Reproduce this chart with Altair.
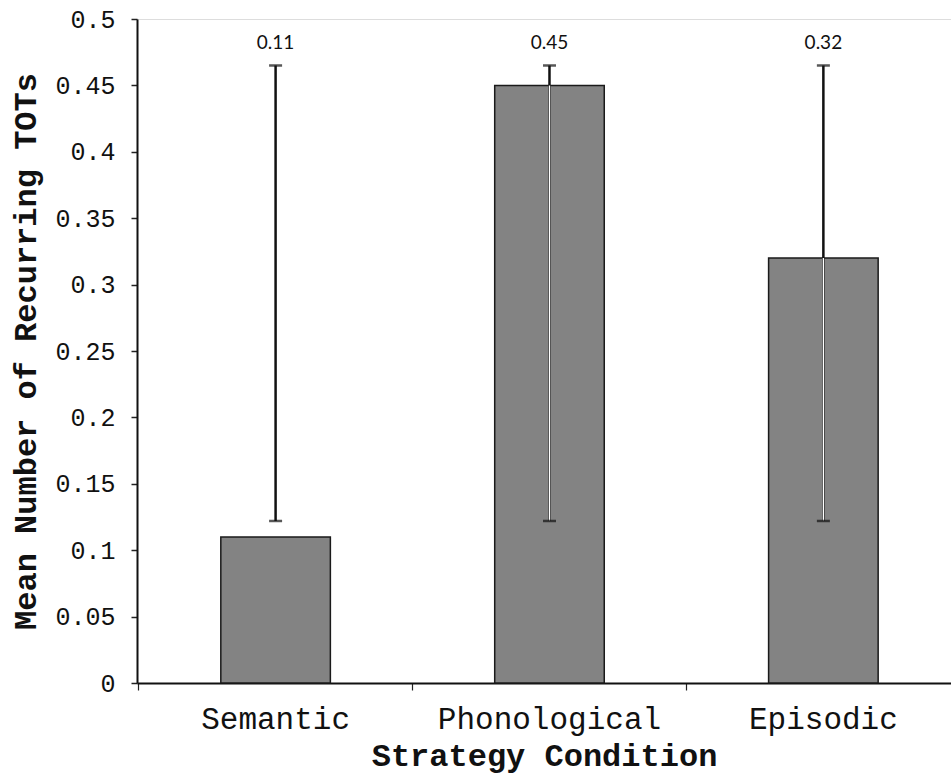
import altair as alt
import pandas as pd

# Data
conditions = ["Semantic", "Phonological", "Episodic"]
means = [0.11, 0.45, 0.32]
err_low = [0.122, 0.122, 0.122]
err_high = [0.465, 0.465, 0.465]
value_labels = ["0.11", "0.45", "0.32"]
y_ticks = [0, 0.05, 0.1, 0.15, 0.2, 0.25, 0.3, 0.35, 0.4, 0.45, 0.5]

df = pd.DataFrame({
    "condition": conditions,
    "mean": means,
    "lo": err_low,
    "hi": err_high,
    "label": value_labels,
})

MONO = "Liberation Mono"

x_scale = alt.Scale(domain=conditions, paddingInner=0.6, paddingOuter=0.286, align=0.535)
y_scale = alt.Scale(domain=[0, 0.5], nice=False, zero=True)

x_enc = alt.X(
    "condition:N", scale=x_scale, sort=conditions,
    title="Strategy Condition",
    axis=alt.Axis(
        labelAngle=0, labelFont=MONO, labelFontSize=31, labelColor="#111",
        labelPadding=14, labelLimit=400, bandPosition=-0.75, tickSize=7,
        tickColor="#222", tickWidth=1.2, domainColor="#111", domainWidth=2,
        titleFont=MONO, titleFontSize=32, titleFontWeight="bold",
        titleColor="#111", titlePadding=6,
    ),
)
y_enc = alt.Y(
    "mean:Q", scale=y_scale, title="Mean Number of Recurring TOTs",
    axis=alt.Axis(
        values=y_ticks, format="~g", grid=False,
        labelFont=MONO, labelFontSize=25, labelColor="#111", labelPadding=16,
        tickSize=6, tickColor="#222", tickWidth=1.5,
        domainColor="#111", domainWidth=2,
        titleFont=MONO, titleFontSize=32, titleFontWeight="bold",
        titleColor="#111", titlePadding=12,
    ),
)

base = alt.Chart(df)

bars = base.mark_bar(fill="#838383", stroke="#1a1a1a", strokeWidth=1.5).encode(
    x=x_enc, y=y_enc
)

err = base.mark_rule(color="#111", strokeWidth=2.5).encode(
    x=alt.X("condition:N", scale=x_scale, sort=conditions),
    y=alt.Y("lo:Q", scale=y_scale),
    y2="hi:Q",
)

inner = base.transform_filter(
    alt.datum.mean > alt.datum.lo
).transform_calculate(
    top="min(datum.mean, datum.hi)"
).mark_rule(color="white", strokeWidth=1.4).encode(
    x=alt.X("condition:N", scale=x_scale, sort=conditions),
    y=alt.Y("lo:Q", scale=y_scale),
    y2="top:Q",
)

cap_hi = base.mark_tick(color="#111", orient="horizontal", size=13, thickness=2.5).encode(
    x=alt.X("condition:N", scale=x_scale, sort=conditions),
    y=alt.Y("hi:Q", scale=y_scale),
)
cap_lo = base.mark_tick(color="#111", orient="horizontal", size=13, thickness=2.5).encode(
    x=alt.X("condition:N", scale=x_scale, sort=conditions),
    y=alt.Y("lo:Q", scale=y_scale),
)

labels = base.mark_text(font="Lato", fontSize=19, color="#111", baseline="middle").encode(
    x=alt.X("condition:N", scale=x_scale, sort=conditions),
    y=alt.value(24),
    text="label:N",
)

chart = alt.layer(bars, err, inner, cap_hi, cap_lo, labels).properties(
    width=814,
    height=664,
    autosize=alt.AutoSizeParams(type="none"),
    padding={"left": 137, "top": 19, "right": 0, "bottom": 93},
).configure_view(stroke=None).configure(background="white")

chart.save("out.html", embed_options={"renderer": "svg", "actions": False})
